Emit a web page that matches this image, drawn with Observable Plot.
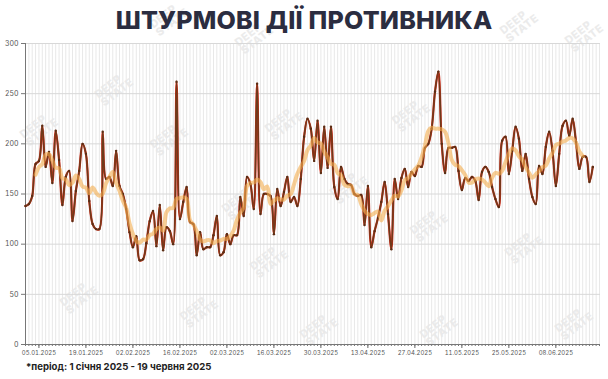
<!DOCTYPE html>
<html>
<head>
<meta charset="utf-8">
<script src="https://cdn.jsdelivr.net/npm/d3@7"></script>
<script src="https://cdn.jsdelivr.net/npm/@observablehq/plot@0.6"></script>
<style>
  html, body { margin: 0; padding: 0; background: #fff; }
  #wrap { position: relative; width: 608px; height: 379px; overflow: hidden; font-family: Inter, "Open Sans", sans-serif; }
  #title { position: absolute; left: 0; top: 5px; width: 608px; text-align: center; font-size: 25px; font-weight: 800; color: #2b2d40; letter-spacing: 0.2px; line-height: 30px; }
  #note { position: absolute; left: 26px; top: 361px; font-size: 9.6px; font-weight: 700; color: #222; }
  #chart { position: absolute; left: 0; top: 0; }
  .wm { position: absolute; color: #ebebeb; font-size: 11px; font-weight: 800; line-height: 10px; transform: rotate(-38deg); letter-spacing: 0.5px; }
</style>
</head>
<body>
<div id="wrap">
  <div id="chart"></div>
  <div id="title">ШТУРМОВІ ДІЇ ПРОТИВНИКА</div>
  <div id="note">*період: 1 січня 2025 - 19 червня 2025</div>
</div>
<script>
// Daily values, 1 Jan 2025 ... 19 Jun 2025
const startDate = "2025-01-01";
const values = [
  138,140,148,180,183,218,177,192,161,213,184,139,167,173,123,153,173,200,190,143,
  120,115,115,212,165,167,158,193,158,150,135,112,97,108,84,85,101,123,133,98,
  139,94,117,113,100,262,125,142,157,122,120,89,112,95,97,97,109,128,89,92,
  110,100,109,109,147,128,167,160,135,260,130,150,150,148,110,155,138,152,167,142,
  147,138,165,207,225,215,183,223,171,217,176,217,157,145,177,165,160,159,150,148,
  149,119,158,97,113,126,142,162,130,95,165,145,166,175,157,172,168,178,177,196,
  200,215,252,272,200,171,196,196,197,173,154,166,163,167,163,144,172,177,172,157,
  145,137,203,207,170,193,217,205,173,190,165,147,140,178,170,197,212,193,158,190,
  218,223,208,225,202,175,187,187,162,177
];
const xTickLabels = ["05.01.2025","19.01.2025","02.02.2025","16.02.2025","02.03.2025","16.03.2025",
  "30.03.2025","13.04.2025","27.04.2025","11.05.2025","25.05.2025","08.06.2025"];
const yTicks = [0, 50, 100, 150, 200, 250, 300];
const watermarks = [[150,8],[235,26],[500,14],[565,24],[95,78],[20,118],[150,128],[265,112],[392,104],
  [330,176],[222,192],[410,214],[505,236],[60,286],[180,300],[300,318],[420,318],[555,312],[250,250]];

const parse = d3.utcParse("%d.%m.%Y");
const t0 = d3.utcParse("%Y-%m-%d")(startDate);
const data = values.map((v, i) => ({date: d3.utcDay.offset(t0, i), value: v}));
const days = d3.utcDay.range(t0, d3.utcDay.offset(t0, 172));
const majorDates = xTickLabels.map(parse);
const xEnd = new Date(+t0 + 171.3 * 864e5);

const chart = Plot.plot({
  width: 608,
  height: 379,
  marginTop: 43,
  marginBottom: 35,
  marginLeft: 25,
  marginRight: 8,
  style: {background: "transparent", fontFamily: "Inter, 'Open Sans', sans-serif"},
  x: {type: "utc", domain: [t0, xEnd], label: null},
  y: {domain: [0, 300], label: null},
  marks: [
    Plot.ruleX(days, {y1: 0, y2: 300, stroke: "#e8e8e8", strokeWidth: 1}),
    Plot.ruleY(yTicks.slice(1), {x1: t0, x2: xEnd, stroke: "#d8d8d8", strokeWidth: 1}),
    Plot.axisY({ticks: yTicks, tickSize: 4, tickPadding: 3, fontSize: 7, color: "#555", stroke: "#777", label: null}),
    Plot.axisX({ticks: days, tickSize: 2, tickFormat: () => "", stroke: "#777", label: null}),
    Plot.axisX({ticks: majorDates, tickSize: 4, tickPadding: 2, fontSize: 6, color: "#555", stroke: "#666", label: null,
      tickFormat: d3.utcFormat("%d.%m.%Y")}),
    Plot.ruleX([t0], {y1: 0, y2: 300, stroke: "#777", strokeWidth: 1}),
    Plot.ruleY([0], {stroke: "#777", strokeWidth: 1}),
    Plot.line(data, {x: "date", y: "value", stroke: "#ff8fd2", strokeWidth: 12, strokeOpacity: 0.38, ariaLabel: "glow"}),
    Plot.line(data, {x: "date", y: "value", stroke: "#d42a18", strokeWidth: 2.2, curve: "catmull-rom"}),
    Plot.line(data, {x: "date", y: "value", stroke: "#6e3a1b", strokeWidth: 1.6, curve: "catmull-rom"}),
    Plot.dot(data, {x: "date", y: "value", r: 1.2, fill: "#5a2e15"}),
    Plot.lineY(data, Plot.windowY({k: 7, anchor: "middle", strict: true},
      {x: "date", y: "value", stroke: "#f4ad4f", strokeWidth: 4, strokeOpacity: 0.6, curve: "catmull-rom"}))
  ]
});
const glow = chart.querySelector('g[aria-label="glow"]');
if (glow) glow.style.filter = "blur(3px)";
document.getElementById("chart").appendChild(chart);

const wrap = document.getElementById("wrap");
for (const [x, y] of watermarks) {
  const el = document.createElement("div");
  el.className = "wm";
  el.style.left = x + "px";
  el.style.top = y + "px";
  el.innerHTML = "DEEP<br>STATE";
  wrap.insertBefore(el, wrap.firstChild);
}
</script>
</body>
</html>
